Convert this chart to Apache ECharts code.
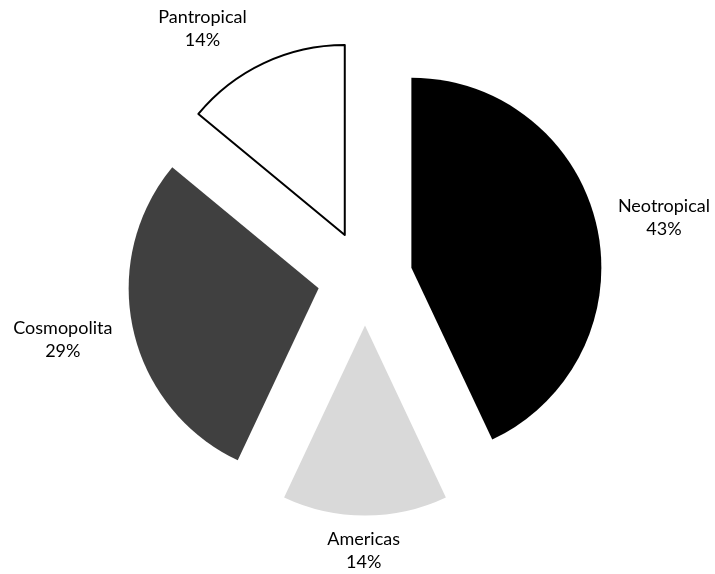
<!DOCTYPE html>
<html>
<head>
<meta charset="utf-8">
<script src="https://cdn.jsdelivr.net/npm/echarts@6/dist/echarts.min.js"></script>
<style>
  html, body { margin: 0; padding: 0; background: #ffffff; }
  #chart { width: 715px; height: 574px; }
</style>
</head>
<body>
<div id="chart"></div>
<script>
// Distribution categories and their shares (%)
const categories = ['Neotropical', 'Americas', 'Cosmopolita', 'Pantropical'];
const shares = [43, 14, 29, 14];

// Slice fills, outlines and label placement per category
const fills = ['#000000', '#d9d9d9', '#404040', '#ffffff'];
const outlines = [0, 0, 0, 2];
const labelLines = [
  { length: 37, length2: -20 },
  { length: 35, length2: -40 },
  { length: 47, length2: -30 },
  { length: 38, length2: -4 }
];

const chart = echarts.init(document.getElementById('chart'), null, { renderer: 'canvas' });

const data = categories.map((name, i) => {
  const style = {
    color: fills[i],
    borderColor: '#000000',
    borderWidth: outlines[i]
  };
  return {
    name: name,
    value: shares[i],
    selected: true,
    itemStyle: style,
    select: { itemStyle: style },
    labelLine: { show: false, length: labelLines[i].length, length2: labelLines[i].length2 }
  };
});

chart.setOption({
  animation: false,
  backgroundColor: '#ffffff',
  series: [{
    type: 'pie',
    center: [365, 278],
    radius: 190,
    startAngle: 90,
    clockwise: true,
    selectedMode: 'multiple',
    selectedOffset: 47.5,
    avoidLabelOverlap: false,
    percentPrecision: 0,
    emphasis: { disabled: true },
    label: {
      show: true,
      position: 'outside',
      alignTo: 'none',
      formatter: '{n|{b}}\n{n|{d}%}',
      rich: {
        n: {
          align: 'center',
          fontFamily: 'Lato',
          fontSize: 18,
          lineHeight: 23,
          color: '#000000'
        }
      }
    },
    labelLine: { show: false },
    data: data
  }]
});
</script>
</body>
</html>
